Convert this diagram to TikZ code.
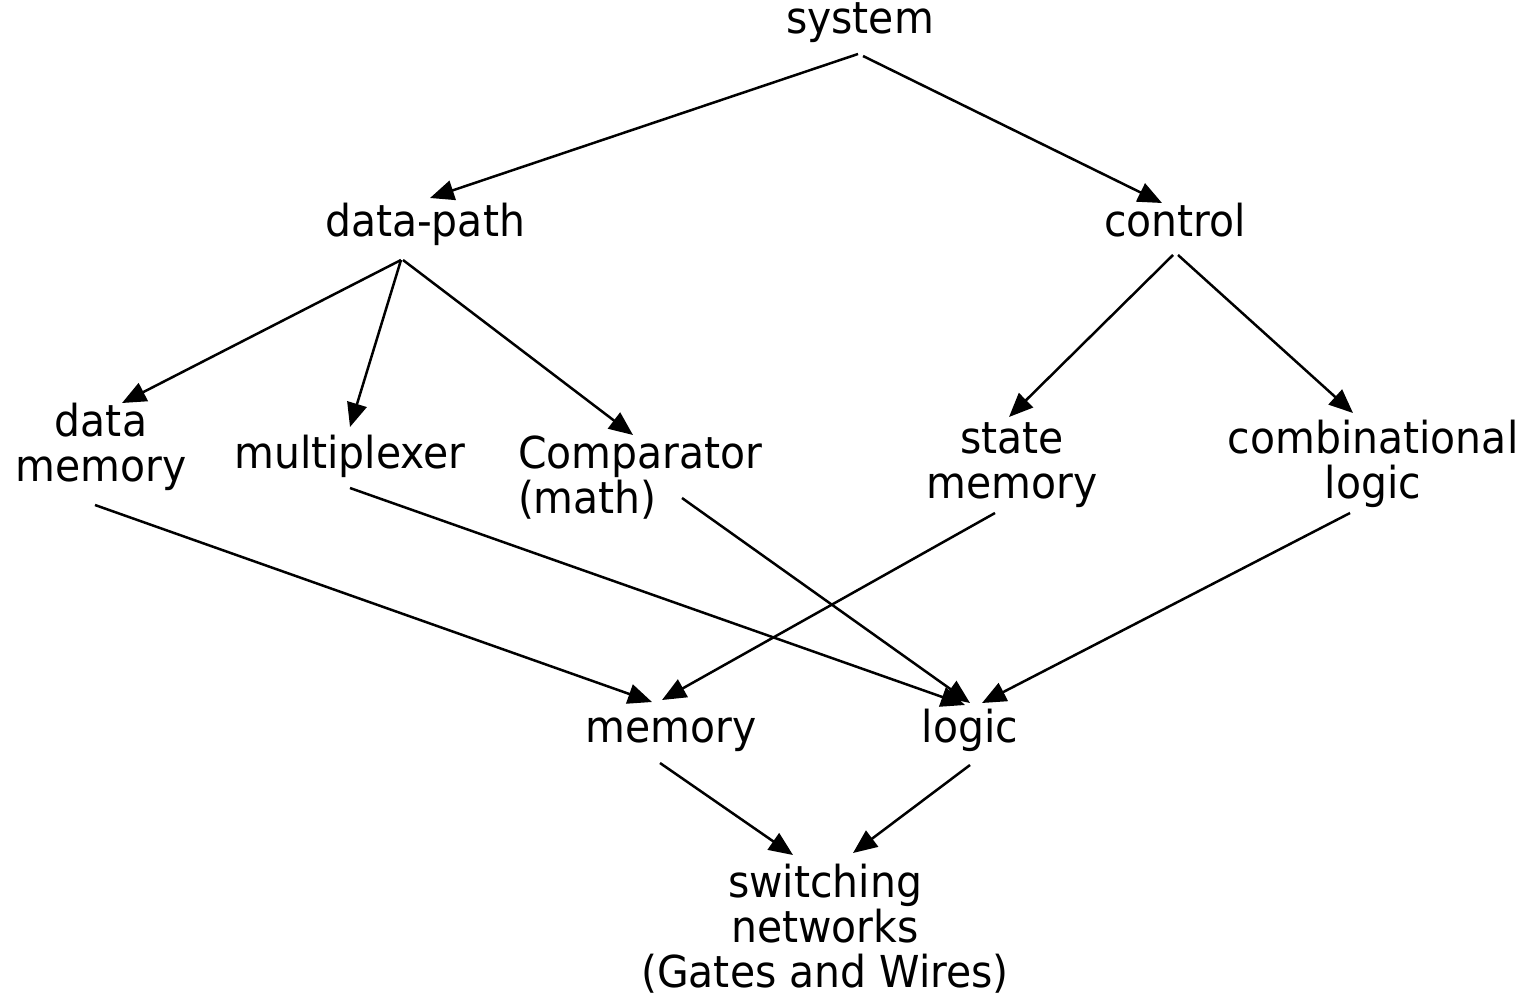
\documentclass[tikz,border=0pt]{standalone}
\usepackage{fontspec}
\setmainfont{DejaVu Sans}[FakeStretch=0.93]
\usetikzlibrary{arrows.meta,calc}
\begin{document}
\begin{tikzpicture}[x=1pt,y=-1pt,
  lbl/.style={inner sep=0pt,outer sep=0pt,anchor=base,align=center,
    font=\fontsize{44}{45}\selectfont},
  arr/.style={line width=2.5pt,-{Triangle[length=24pt,width=20pt]}}]
\useasboundingbox (0,0) rectangle (1530,1001);

% hierarchy levels (multi-line labels sit on the baseline of their last line)
\node[lbl] (sys) at (860,33) {system};
\node[lbl] (dp)  at (425,236) {data-path};
\node[lbl] (ctl) at (1175,236) {control};
\node[lbl] (dm)  at (101,481) {data\\memory};
\node[lbl] (mux) at (350,468) {multiplexer};
\node[lbl,anchor=base west,align=left] (cmp) at (518,513) {Comparator\\(math)};
\node[lbl] (sm)  at (1012,498) {state\\memory};
\node[lbl] (cl)  at (1373,498) {combinational\\logic};
\node[lbl] (mem) at (671,742) {memory};
\node[lbl] (lg)  at (970,742) {logic};
\node[lbl] (sw)  at (825,987) {switching\\networks\\(Gates and Wires)};

% top-down decomposition
\draw[arr] ($(sys.base)+(-2,21)$) -- ($(dp.base)+(5,-38)$);
\draw[arr] ($(sys.base)+(3,23)$) -- ($(ctl.base)+(-13,-33)$);
\draw[arr] ($(dp.base)+(-24,24)$) -- ($(dm.base)+(21,-78)$);
\draw[arr] ($(dp.base)+(-24,24)$) -- ($(mux.base)+(0,-41)$);
\draw[arr] ($(dp.base)+(-22,24)$) -- ($(cmp.base west)+(115,-78)$);
\draw[arr] ($(ctl.base)+(-2,19)$) -- ($(sm.base)+(-3,-81)$);
\draw[arr] ($(ctl.base)+(3,19)$) -- ($(cl.base)+(-20,-85)$);
\draw[arr] ($(dm.base)+(-6,24)$) -- ($(mem.base)+(-19,-40)$);
\draw[arr] ($(mux.base)+(0,20)$) -- ($(lg.base)+(-5,-37)$);
\draw[arr] ($(cmp.base west)+(164,-15)$) -- ($(lg.base)+(0,-39)$);
\draw[arr] ($(sm.base)+(-17,15)$) -- ($(mem.base)+(-9,-42)$);
\draw[arr] ($(cl.base)+(-23,15)$) -- ($(lg.base)+(12,-39)$);
\draw[arr] ($(mem.base)+(-11,21)$) -- ($(sw.base)+(-32,-132)$);
\draw[arr] ($(lg.base)+(0,23)$) -- ($(sw.base)+(28,-134)$);
\end{tikzpicture}
\end{document}
